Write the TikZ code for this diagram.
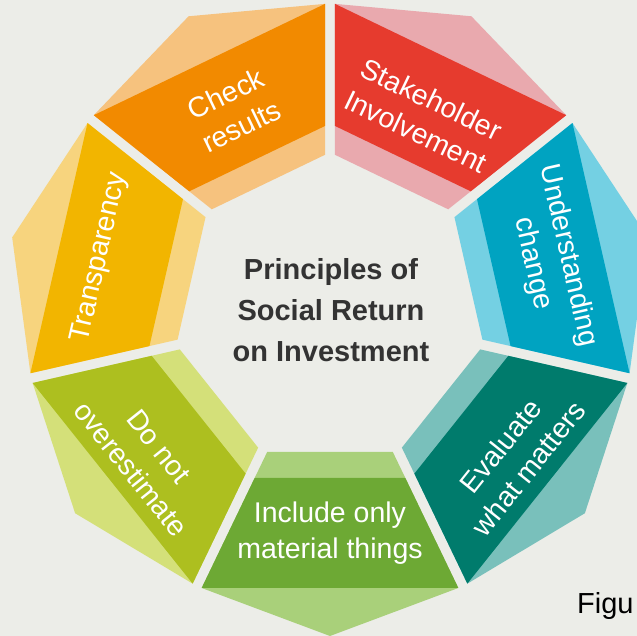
\documentclass[tikz,border=0pt]{standalone}
\usepackage{fontspec}
\setmainfont{Liberation Sans}
\usepackage{tikz}
\usetikzlibrary{positioning}
\definecolor{fond}{HTML}{ECEDE8}
\definecolor{titregris}{HTML}{333333}
\definecolor{orangefonce}{HTML}{F28A00}
\definecolor{orangeclair}{HTML}{F6C27E}
\definecolor{rougefonce}{HTML}{E63B2E}
\definecolor{rougeclair}{HTML}{E9A9AE}
\definecolor{cyanfonce}{HTML}{00A3C1}
\definecolor{cyanclair}{HTML}{74D0E3}
\definecolor{tealfonce}{HTML}{007B6C}
\definecolor{tealclair}{HTML}{79C0BB}
\definecolor{vertfonce}{HTML}{6DA934}
\definecolor{vertclair}{HTML}{A9D07A}
\definecolor{olivefonce}{HTML}{ADBF1F}
\definecolor{oliveclair}{HTML}{D4E079}
\definecolor{jaunefonce}{HTML}{F2B500}
\definecolor{jauneclair}{HTML}{F7D47E}
\tikzstyle{principe}=[
        text=white,
        align=center,
        inner sep=0pt,
        font=\fontsize{28.5}{36}\selectfont
]
\tikzstyle{titre}=[text=titregris,align=center,font=\fontsize{29}{41}\selectfont\bfseries]
\tikzstyle{legende}=[text=black,anchor=west,inner sep=0pt,font=\fontsize{29}{34}\selectfont]
\newcommand{\secteur}[3]{%
  \begin{scope}[rotate=#1]
    \fill[#3] (-62.83,-142) -- (62.83,-142) -- (128.33,-278) -- (0,-326) -- (-128.33,-278) -- cycle;
    \fill[#2] (-75.35,-168) -- (75.35,-168) -- (128.33,-278) -- (-128.33,-278) -- cycle;
  \end{scope}}

\begin{document}
\begin{tikzpicture}[x=1pt,y=1pt]
\fill[fond] (-330,-326) rectangle (307,310);
\useasboundingbox (-330,-326) rectangle (307,310);
%secteurs
\secteur{0}{vertfonce}{vertclair}
\secteur{51.43}{tealfonce}{tealclair}
\secteur{102.86}{cyanfonce}{cyanclair}
\secteur{154.29}{rougefonce}{rougeclair}
\secteur{205.71}{orangefonce}{orangeclair}
\secteur{257.14}{jaunefonce}{jauneclair}
\secteur{308.57}{olivefonce}{oliveclair}
%textes
\node[titre] (titre) at (1,0) {Principles of\\Social Return\\on Investment};
\node[principe] (materiel) at (-90:223) {Include only\\material things};
\node[principe,rotate=51.43] (evaluer) at (-38.57:236) {Evaluate\\what matters};
\node[principe,rotate=-77.14] (changement) at (12.86:226) {Understanding\\change};
\node[principe,rotate=-25.71] (parties) at (64.29:216) {Stakeholder\\Involvement};
\node[principe,rotate=25.71] (verifier) at (115.71:222) {Check\\results};
\node[principe,rotate=77.14] (transparence) at (167.14:236) {Transparency};
\node[principe,rotate=-51.43] (surestimer) at (218.57:237) {Do not\\overestimate};
\node[legende] (figure) at (247,-296) {Figu};
\end{tikzpicture}
\end{document}
